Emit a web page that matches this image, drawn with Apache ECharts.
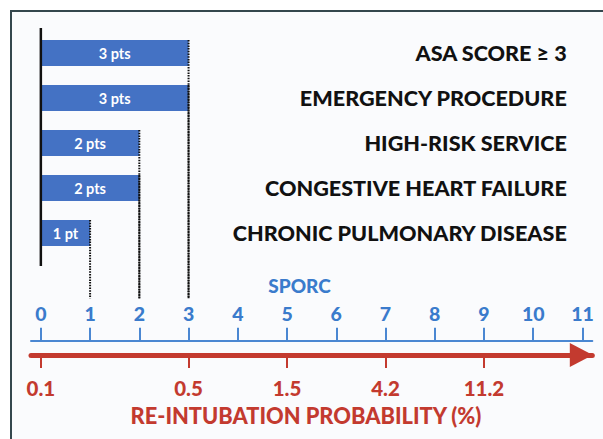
<!DOCTYPE html>
<html>
<head>
<meta charset="utf-8">
<script src="https://cdn.jsdelivr.net/npm/echarts@6/dist/echarts.min.js"></script>
<style>
html,body{margin:0;padding:0;background:#ffffff;}
#chart{width:603px;height:439px;}
</style>
</head>
<body>
<div id="chart"></div>
<script>
// ---- data ----
const rowLabels = ['ASA SCORE \u2265 3', 'EMERGENCY PROCEDURE', 'HIGH-RISK SERVICE', 'CONGESTIVE HEART FAILURE', 'CHRONIC PULMONARY DISEASE'];
const barValues = [3, 3, 2, 2, 1];
const barLabels = ['3 pts', '3 pts', '2 pts', '2 pts', '1 pt'];
const sporcTicks = [0, 1, 2, 3, 4, 5, 6, 7, 8, 9, 10, 11];
const probTickPos = [0, 3, 5, 7, 9];
const probLabels = ['0.1', '0.5', '1.5', '4.2', '11.2'];
const sporcTitle = 'SPORC';
const probTitle = 'RE-INTUBATION PROBABILITY (%)';

// ---- style ----
const FONT = 'Lato, "Open Sans", sans-serif';
const W = 900;
const BLUE = '#3a7bcc';
const BLUE_LINE = '#4a87d2';
const RED = '#c33a2f';
const BAR = '#4472c4';
const GL = 31, GW = 561.3;
const XMIN = -0.2, XMAX = 11.2;
const BARW = 26;

const chart = echarts.init(document.getElementById('chart'), null, {renderer: 'svg'});

const option = {
  animation: false,
  graphic: [
    {type: 'rect', z: -10, silent: true, shape: {x: 11, y: 11, width: 640, height: 480},
     style: {fill: '#fafbfd', stroke: '#34474d', lineWidth: 2}},
    {type: 'text', x: 299.5, y: 285, style: {text: sporcTitle, fill: BLUE, font: W + ' 19px ' + FONT, textAlign: 'center', textVerticalAlign: 'middle'}},
    {type: 'text', x: 306, y: 415, style: {text: probTitle, fill: RED, font: W + ' 21.8px ' + FONT, textAlign: 'center', textVerticalAlign: 'middle'}}
  ],
  grid: [
    {left: GL, width: GW, top: 30.5, height: 270},
    {left: GL, width: GW, top: 300, height: 40.7},
    {left: GL, width: GW, top: 300, height: 55}
  ],
  xAxis: [
    {gridIndex: 0, type: 'value', min: XMIN, max: XMAX, show: false},
    {gridIndex: 1, type: 'value', min: XMIN, max: XMAX, position: 'bottom',
     axisLine: {show: true, lineStyle: {color: BLUE_LINE, width: 2}},
     axisTick: {show: true, customValues: sporcTicks, inside: true, length: 13, lineStyle: {color: BLUE_LINE, width: 2}},
     axisLabel: {show: true, customValues: sporcTicks, inside: true, margin: 17, color: BLUE, fontSize: 19.5, fontWeight: W, fontFamily: FONT},
     splitLine: {show: false}},
    {gridIndex: 2, type: 'value', min: XMIN, max: XMAX, position: 'bottom',
     axisLine: {show: true, symbol: ['none', 'triangle'], symbolSize: [24, 23], symbolOffset: [0, -11],
                lineStyle: {color: RED, width: 5}},
     axisTick: {show: true, customValues: probTickPos, length: 13, lineStyle: {color: RED, width: 2}},
     axisLabel: {show: true, customValues: probTickPos, margin: 22, color: RED, fontSize: 20.5, fontWeight: W, fontFamily: FONT,
                 formatter: function (v) { const k = probTickPos.indexOf(Math.round(v)); return k >= 0 ? probLabels[k] : ''; }},
     splitLine: {show: false}}
  ],
  yAxis: [
    {gridIndex: 0, type: 'category', inverse: true, data: rowLabels.concat(['']), position: 'right',
     axisLine: {show: false}, axisTick: {show: false}, splitLine: {show: false},
     axisLabel: {show: true, inside: true, margin: 25.5, color: '#111111', fontSize: 21.6, fontWeight: W, fontFamily: FONT, padding: [4, 0, 0, 0]}},
    {gridIndex: 1, type: 'value', show: false},
    {gridIndex: 2, type: 'value', show: false}
  ],
  series: [
    {type: 'bar', xAxisIndex: 0, yAxisIndex: 0, data: barValues, barWidth: BARW,
     itemStyle: {color: BAR},
     label: {show: true, position: 'inside', color: '#ffffff', fontSize: 14.5, fontWeight: 'bold', fontFamily: FONT,
             formatter: function (p) { return barLabels[p.dataIndex]; }}},
    {type: 'custom', xAxisIndex: 0, yAxisIndex: 0, z: 5,
     data: barValues.map(function (v, i) { return [v, i]; }),
     encode: {x: 0, y: 1},
     renderItem: function (params, api) {
       const p = api.coord([api.value(0), api.value(1)]);
       const cs = params.coordSys;
       return {type: 'line', shape: {x1: p[0], y1: p[1] - BARW / 2, x2: p[0], y2: cs.y + cs.height - 2},
               style: {stroke: '#111111', lineWidth: 2, lineDash: [1.5, 1.2]}};
     }},
    {type: 'custom', xAxisIndex: 0, yAxisIndex: 0, z: 6,
     data: [[0, 0, barValues.length - 1]],
     encode: {x: 0, y: 1},
     renderItem: function (params, api) {
       const a = api.coord([0, api.value(1)]);
       const b = api.coord([0, api.value(2)]);
       return {type: 'line', shape: {x1: a[0], y1: a[1] - 25, x2: a[0], y2: b[1] + 33},
               style: {stroke: '#111111', lineWidth: 2.5}};
     }}
  ]
};
chart.setOption(option);
</script>
</body>
</html>
